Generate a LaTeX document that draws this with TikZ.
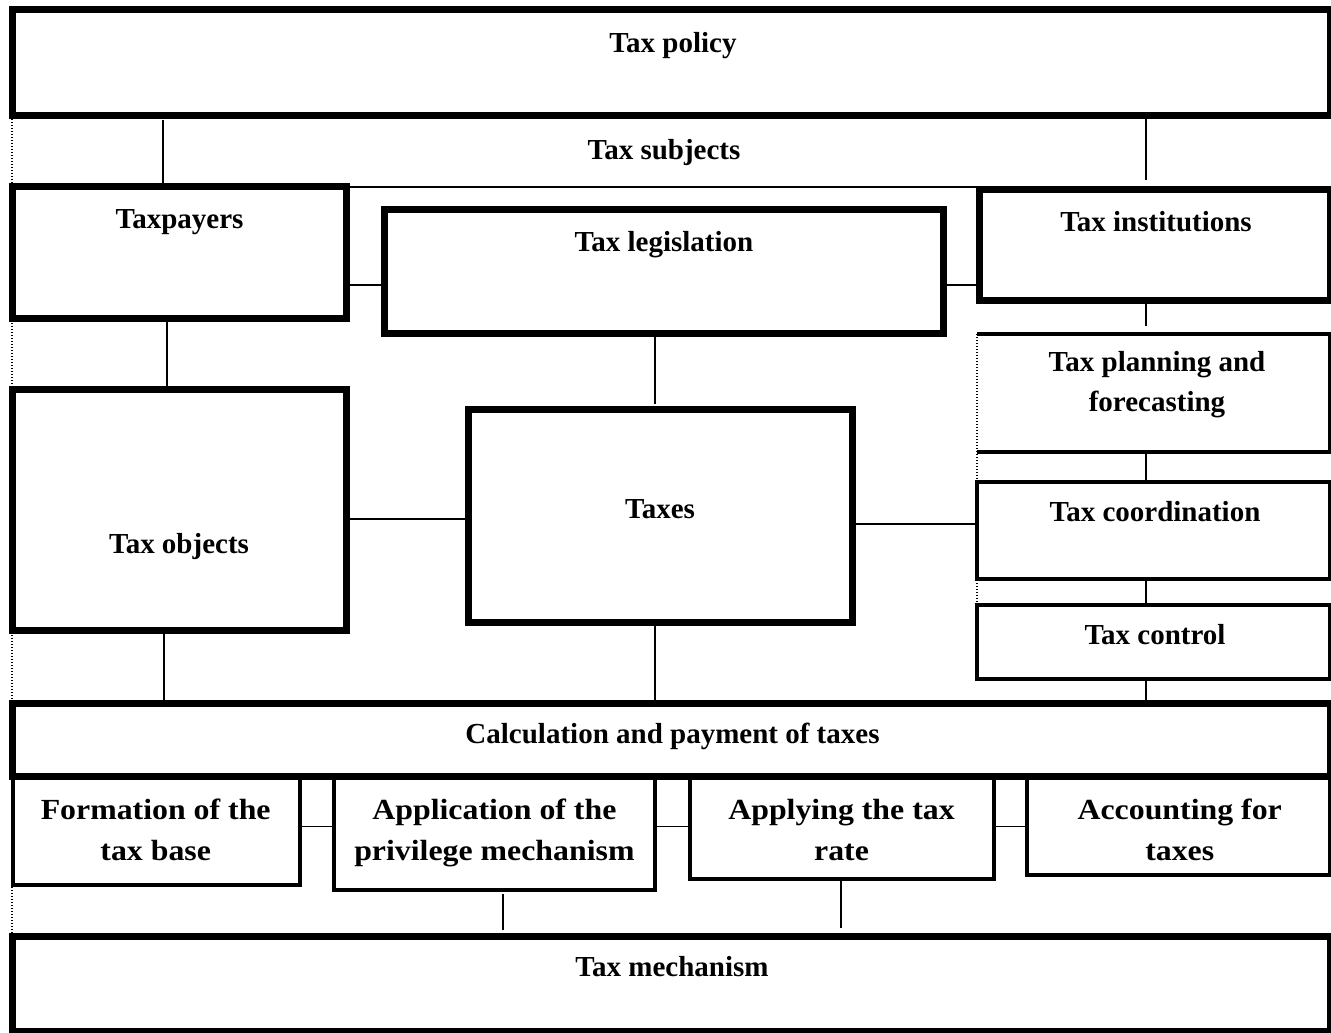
\documentclass[tikz,border=0pt]{standalone}
\usepackage{fontspec}
\setmainfont{Liberation Serif}
\newfontfamily\widefont[FakeStretch=1.09]{Liberation Serif}
\usetikzlibrary{fit,calc}
\begin{document}
\begin{tikzpicture}[x=0.5pt,y=-0.5pt,
  thickbox/.style={draw, line width=3.5pt, inner sep=0pt, outer sep=0pt},
  medbox/.style={draw, line width=2pt, inner sep=0pt, outer sep=0pt},
  plainbox/.style={inner sep=0pt, outer sep=0pt},
  conn/.style={line width=0.65pt},
  dotline/.style={line width=0.6pt, dash pattern=on 0.6pt off 0.9pt},
  lbl/.style={font=\fontsize{14.5}{20}\selectfont\bfseries, anchor=base, inner sep=0pt, align=center},
  blbl/.style={font=\widefont\fontsize{14.6}{20.5}\selectfont\bfseries, anchor=base, inner sep=0pt, align=center}]
\useasboundingbox[fill=white] (0,0) rectangle (1331,1032);

% helper coordinates for connector positions
\coordinate (xa) at (163,0);
\coordinate (xb) at (1146,0);
\coordinate (xc) at (167,0);
\coordinate (xd) at (655,0);
\coordinate (xe) at (164,0);
\coordinate (xf) at (503,0);
\coordinate (xg) at (841,0);
\coordinate (ya) at (0,285);
\coordinate (yb) at (0,519);
\coordinate (yc) at (0,524);
\coordinate (yd) at (0,826.5);

% boxes
\node[thickbox, fit={(12,9.5) (1330,116)}] (policy) {};
\node[thickbox, fit={(12,187) (346.5,318)}] (taxpayers) {};
\node[thickbox, fit={(384,210) (943,333)}] (legislation) {};
\node[thickbox, fit={(979,190) (1330,300)}] (institutions) {};
\node[plainbox, fit={(977,334) (1330,452)}] (planning) {};
\node[thickbox, fit={(468.5,409.5) (852,622)}] (taxes) {};
\node[thickbox, fit={(12,389) (346,630)}] (objects) {};
\node[medbox, fit={(977,482) (1330,579)}] (coordination) {};
\node[medbox, fit={(977,605) (1330,679)}] (control) {};
\node[medbox, fit={(13,776) (299.5,885)}] (formation) {};
\node[medbox, fit={(333.5,776) (655,889.5)}] (application) {};
\node[medbox, fit={(689.5,776) (993.5,878.5)}] (applying) {};
\node[medbox, fit={(1027,776) (1330,875)}] (accounting) {};
\node[thickbox, fit={(12,703) (1330,776)}] (calc) {};
\node[thickbox, fit={(12,936) (1330,1031)}] (mechanism) {};

% planning box: left side dotted, other sides solid
\draw[line width=1.8pt] (planning.south west) -- (planning.south east) -- (planning.north east) -- (planning.north west);
\draw[dotline] (planning.north west) -- (control.north west);
\draw[dotline] (policy.south west) -- (mechanism.north west);

% tax subjects frame top line
\draw[conn] (taxpayers.north east) -- (taxpayers.north east -| institutions.west);

% connectors
\draw[conn, shorten <=2pt] (policy.south -| xa) -- (taxpayers.north -| xa);
\draw[conn, shorten >=5pt] (policy.south -| xb) -- (institutions.north -| xb);
\draw[conn] (taxpayers.east |- ya) -- (legislation.west |- ya);
\draw[conn] (legislation.east |- ya) -- (institutions.west |- ya);
\draw[conn] (taxpayers.south -| xc) -- (objects.north -| xc);
\draw[conn, shorten >=3pt] (legislation.south -| xd) -- (taxes.north -| xd);
\draw[conn] (objects.east |- yb) -- (taxes.west |- yb);
\draw[conn] (taxes.east |- yc) -- (coordination.west |- yc);
\draw[conn, shorten >=4pt] (institutions.south -| xb) -- (planning.north -| xb);
\draw[conn] (planning.south -| xb) -- (coordination.north -| xb);
\draw[conn] (coordination.south -| xb) -- (control.north -| xb);
\draw[conn] (control.south -| xb) -- (calc.north -| xb);
\draw[conn] (objects.south -| xe) -- (calc.north -| xe);
\draw[conn] (taxes.south -| xd) -- (calc.north -| xd);
\draw[conn] (formation.east |- yd) -- (application.west |- yd);
\draw[conn] (application.east |- yd) -- (applying.west |- yd);
\draw[conn] (applying.east |- yd) -- (accounting.west |- yd);
\draw[conn, shorten <=2pt, shorten >=3pt] (application.south -| xf) -- (mechanism.north -| xf);
\draw[conn, shorten >=4pt] (applying.south -| xg) -- (mechanism.north -| xg);

% labels
\node[lbl] (tpolicy) at (673,52.3) {Tax policy};
\node[lbl] (tsubjects) at (664,159.3) {Tax subjects};
\node[lbl] (ttaxpayers) at (179.5,228.3) {Taxpayers};
\node[lbl] (tlegislation) at (664,251.7) {Tax legislation};
\node[lbl] (tinstitutions) at (1156,231.7) {Tax institutions};
\node[lbl] (tplanning) at (1157,411.7) {Tax planning and\\forecasting};
\node[lbl] (ttaxes) at (660,518.3) {Taxes};
\node[lbl] (tobjects) at (179,553) {Tax objects};
\node[lbl] (tcoordination) at (1155,521) {Tax coordination};
\node[lbl] (tcontrol) at (1155,644) {Tax control};
\node[lbl] (tcalc) at (672.5,743.3) {Calculation and payment of taxes};
\node[blbl] (tformation) at (155.7,860) {Formation of the\\tax base};
\node[blbl] (tapplication) at (494.4,860) {Application of the\\privilege mechanism};
\node[blbl] (tapplying) at (841.5,860) {Applying the tax\\rate};
\node[blbl] (taccounting) at (1179.7,860) {Accounting for\\taxes};
\node[lbl] (tmechanism) at (672,976.7) {Tax mechanism};
\end{tikzpicture}
\end{document}
